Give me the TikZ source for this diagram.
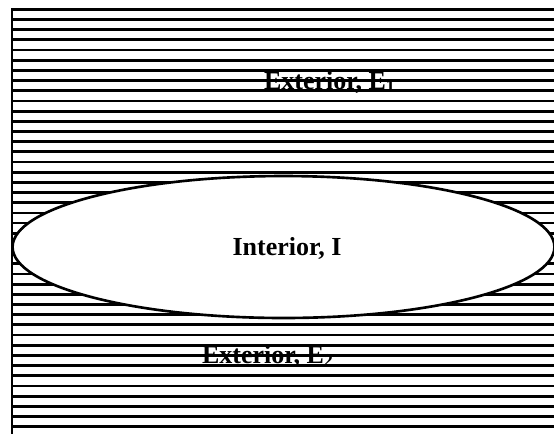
\documentclass[tikz,border=0pt]{standalone}
\usepackage{fontspec}
\setmainfont{Liberation Serif}
\usepackage{tikz}
\usetikzlibrary{shapes.geometric, positioning}

\begin{document}
\begin{tikzpicture}[
    x=0.02cm, y=-0.02cm,
    hatch/.style={line width=1.6pt},
    frame/.style={line width=1.6pt},
    region/.style={ellipse, draw, fill=white, line width=1.5pt, inner sep=0pt,
        minimum width=10.84cm, minimum height=2.84cm},
    label/.style={font=\fontsize{14.8}{17}\selectfont\bfseries, inner sep=1pt}
]
\useasboundingbox (0,0) rectangle (554,434);

% Hatching of the exterior
\foreach \k [evaluate=\k as \yy using 9.3+10.18*\k] in {0,...,41}
    \draw[hatch] (12,\yy) -- (554,\yy);

% Left edge
\coordinate (ftop) at (12,8);
\coordinate (fbot) at (12,434);
\draw[frame] (ftop) -- (fbot);

% Interior region
\node[region] (interior) at (283.5,247) {};
\node[label] (intlabel) at (287,248) {Interior, I};

% Exterior labels
\node[label] (extone) at (330,82) {Exterior, E\textsubscript{1}};
\node[label] (exttwo) at (268,356) {Exterior, E\textsubscript{2}};

\end{tikzpicture}
\end{document}
